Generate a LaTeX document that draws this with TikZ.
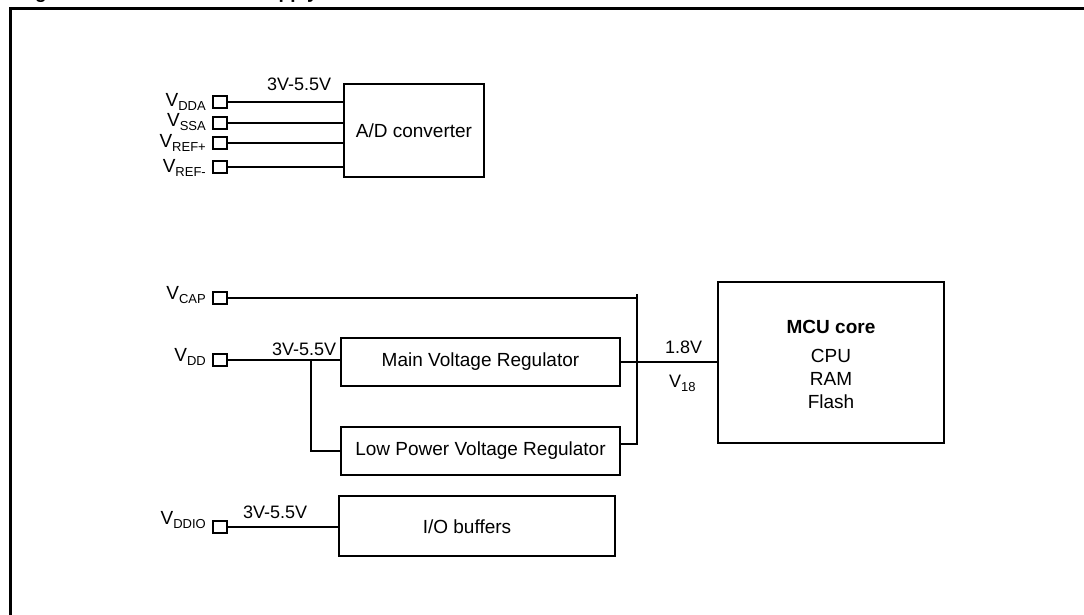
\documentclass[tikz,border=0pt]{standalone}
\usepackage{fontspec}
\setmainfont{Liberation Sans}
\usetikzlibrary{positioning,calc}

\newcommand{\vpin}[1]{V\raisebox{-4pt}{\fontsize{13}{15}\selectfont #1}}

\begin{document}
\begin{tikzpicture}[x=1pt, y=-1pt,
  wire/.style={line width=2.3pt},
  pin/.style={draw, line width=1.9pt, minimum width=14pt, minimum height=12pt, inner sep=0pt},
  blk/.style={draw, line width=2.3pt, inner sep=0pt, font=\fontsize{19}{22}\selectfont},
  pinlbl/.style={anchor=base east, inner sep=0pt, font=\fontsize{19}{22}\selectfont},
  volt/.style={anchor=base west, inner sep=0pt, font=\fontsize{18}{21}\selectfont}]
  \useasboundingbox (0,0) rectangle (1084,615);
  \clip (0,0) rectangle (1084,615);

  % Frame and title
  \draw[line width=3pt] (10,640) -- (10,9) -- (1100,9);
  \node[anchor=base west, inner sep=0pt, font=\bfseries\fontsize{19}{22}\selectfont] (fignum) at (18,-1.8) {Figure 5.};
  \node[anchor=base west, inner sep=0pt, font=\bfseries\fontsize{19}{22}\selectfont] (figtitle) at (194,-1.8) {Power supply overview};

  % A/D converter
  \node[blk, minimum width=140pt, minimum height=93pt] (adc) at (414,130.5) {A/D converter};
  \node[pin] (p_dda) at (220,102) {};
  \node[pin] (p_ssa) at (220,123) {};
  \node[pin] (p_refp) at (220,143) {};
  \node[pin] (p_refm) at (220,167) {};
  \node[pinlbl] (l_dda) at (206,107) {\vpin{DDA}};
  \node[pinlbl] (l_ssa) at (206,127) {\vpin{SSA}};
  \node[pinlbl] (l_refp) at (206,147) {\vpin{REF+}};
  \node[pinlbl] (l_refm) at (206,172) {\vpin{REF-}};
  \foreach \p in {p_dda,p_ssa,p_refp,p_refm}
    \draw[wire] (\p.east) -- (\p.east -| adc.west);
  \node[volt] (v_adc) at (267,91) {3V-5.5V};

  % Regulators
  \node[blk, minimum width=279pt, minimum height=48pt] (mainreg) at (480.5,362) {Main Voltage Regulator};
  \node[blk, minimum width=279pt, minimum height=48pt] (lpreg) at (480.5,451) {Low Power Voltage Regulator};
  \node[pin] (p_cap) at (220,298) {};
  \node[pin] (p_dd) at (220,360) {};
  \node[pinlbl] (l_cap) at (206,299) {\vpin{CAP}};
  \node[pinlbl] (l_dd) at (206,361) {\vpin{DD}};
  \node[volt] (v_dd) at (272,355) {3V-5.5V};
  \coordinate (split) at (311,360);
  \coordinate (bustop) at (637,294);
  \coordinate (lpout) at ($(lpreg.east)+(0,-7)$);
  \draw[wire] (p_dd.east) -- (p_dd.east -| mainreg.west);
  \draw[wire] (split) |- (lpreg.west);
  \draw[wire] (p_cap.east) -- (p_cap.east -| bustop);
  \draw[wire] (bustop) -- (bustop |- lpout) -- (lpout);

  % MCU core
  \node[blk, minimum width=226pt, minimum height=161pt] (mcu) at (831,362.5) {};
  \node[anchor=base, align=center, inner sep=0pt, font=\fontsize{19}{23}\selectfont] (mcutxt) at (831,408)
    {\textbf{MCU core}\\[6pt]CPU\\RAM\\Flash};
  \draw[wire] (mainreg.east) -- (mainreg.east -| mcu.west);
  \node[volt] (v_core) at (665,353) {1.8V};
  \node[volt] (v_18) at (669,387) {\vpin{18}};

  % I/O buffers
  \node[blk, minimum width=276pt, minimum height=60pt] (iobuf) at (477,526) {};
  \node[inner sep=0pt, font=\fontsize{19}{22}\selectfont] (iotxt) at (467,527) {I/O buffers};
  \node[pin] (p_ddio) at (220,527) {};
  \node[pinlbl] (l_ddio) at (206,524) {\vpin{DDIO}};
  \node[volt] (v_io) at (243,518) {3V-5.5V};
  \draw[wire] (p_ddio.east) -- (p_ddio.east -| iobuf.west);
\end{tikzpicture}
\end{document}
